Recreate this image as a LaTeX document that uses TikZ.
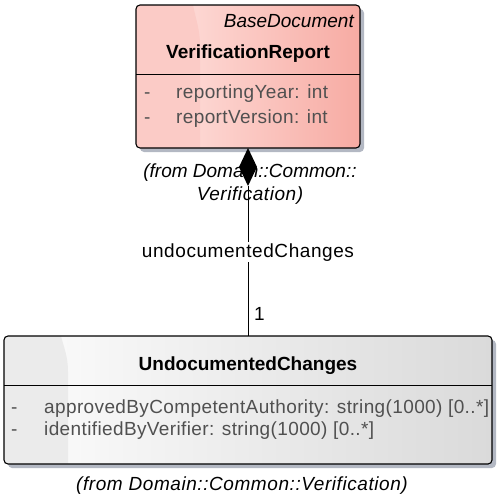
\documentclass[tikz,border=0pt]{standalone}
\usepackage{fontspec}
\setmainfont{Liberation Sans}
\usetikzlibrary{shapes.geometric,shadows}
\definecolor{reportleft}{HTML}{FFE6E3}
\definecolor{reportright}{HTML}{F7ABA3}
\definecolor{reportstrip}{HTML}{FBCBC6}
\definecolor{changesleft}{HTML}{FDFDFD}
\definecolor{changesright}{HTML}{DADADA}
\definecolor{changesstrip}{HTML}{EBEBEB}
\definecolor{umlshadow}{HTML}{B3B8C3}
\definecolor{attrtext}{HTML}{505050}

\begin{document}
\begin{tikzpicture}[
  x=1pt, y=1pt,
  classbox/.style={rounded corners=4pt, inner sep=0pt, outer sep=0pt,
    drop shadow={shadow xshift=4pt, shadow yshift=-4pt, fill=umlshadow, opacity=1}},
  outline/.style={draw=black, line width=1.1pt, rounded corners=4pt},
  divider/.style={line width=1pt},
  classname/.style={anchor=base, font=\fontsize{19}{22}\selectfont\bfseries, inner sep=0pt},
  stereo/.style={anchor=base east, font=\fontsize{19}{22}\selectfont\itshape, inner sep=0pt},
  attr/.style={anchor=base west, font=\fontsize{19}{22}\selectfont\addfontfeature{LetterSpace=2}, text=attrtext, inner sep=0pt},
  pkg/.style={anchor=base, font=\fontsize{19}{22}\selectfont\itshape\addfontfeature{LetterSpace=#1}, inner sep=0pt},
  pkg/.default=3,
  role/.style={font=\fontsize{19}{22}\selectfont\addfontfeature{LetterSpace=3}, inner sep=1.5pt},
  assoc/.style={line width=1pt},
]
  \useasboundingbox (0,0) rectangle (496,-498);

  % Class: VerificationReport
  \node[classbox, left color=reportleft, right color=reportright,
    minimum width=224pt, minimum height=143pt] (report) at (248,-76.5) {};
  \begin{scope}
    \clip[rounded corners=4pt] (report.north west) rectangle (report.south east);
    \fill[reportstrip] (136,-5) -- (193,-5) .. controls (196,-20) and (200,-30) .. (200,-45)
      -- (200,-148) -- (136,-148) -- cycle;
  \end{scope}
  \draw[outline] (report.north west) rectangle (report.south east);
  \draw[divider] (report.west |- 0,-74) -- (report.east |- 0,-74);
  \node[stereo] (reportstereo) at (354,-27) {BaseDocument};
  \node[classname] (reportname) at (248,-58) {VerificationReport};
  \node[attr] (yeardash) at (144,-98) {-};
  \node[attr] (year) at (176,-98) {reportingYear: int};
  \node[attr] (versiondash) at (144,-123) {-};
  \node[attr] (version) at (176,-123) {reportVersion: int};
  \node[pkg=0] (reportpkg1) at (250,-177) {(from Domain::Common::};
  \node[pkg] (reportpkg2) at (250,-200) {Verification)};

  % Class: UndocumentedChanges
  \node[classbox, left color=changesleft, right color=changesright,
    minimum width=488pt, minimum height=128pt] (changes) at (248,-400) {};
  \begin{scope}
    \clip[rounded corners=4pt] (changes.north west) rectangle (changes.south east);
    \fill[changesstrip] (4,-336) -- (61,-336) .. controls (64,-348) and (68,-356) .. (68,-372)
      -- (68,-464) -- (4,-464) -- cycle;
  \end{scope}
  \draw[outline] (changes.north west) rectangle (changes.south east);
  \draw[divider] (changes.west |- 0,-385) -- (changes.east |- 0,-385);
  \node[classname] (changesname) at (248,-370) {UndocumentedChanges};
  \node[attr] (approveddash) at (11,-413) {-};
  \node[attr] (approved) at (44,-413) {approvedByCompetentAuthority: string(1000) [0..*]};
  \node[attr] (identifieddash) at (11,-435) {-};
  \node[attr] (identified) at (44,-435) {identifiedByVerifier: string(1000) [0..*]};
  \node[pkg] (changespkg) at (242,-490) {(from Domain::Common::Verification)};

  % Composition
  \node[diamond, fill=black, inner sep=0pt, outer sep=0pt,
    minimum width=18pt, minimum height=38pt] (comp) at (248,-167) {};
  \draw[assoc] (comp.south) -- (changes.north);
  \node[role, fill=white, anchor=base] (rolename) at (248,-257) {undocumentedChanges};
  \node[role, anchor=base west, inner sep=0pt] (mult) at (254,-320) {1};
\end{tikzpicture}
\end{document}
